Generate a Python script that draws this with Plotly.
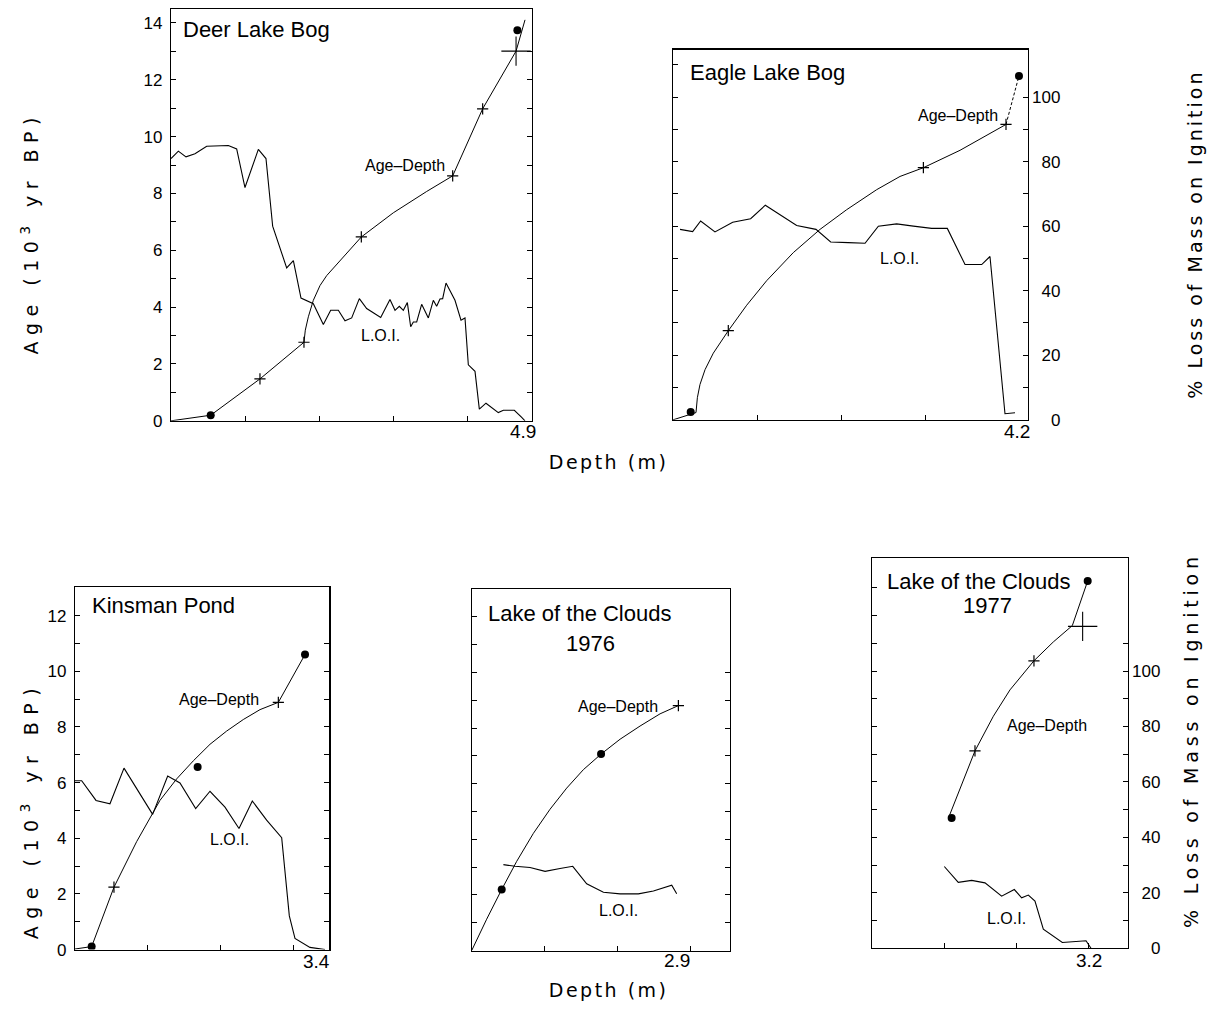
import plotly.graph_objects as go

W, H = 1217, 1017

# ---------------- DATA ----------------
# Deer Lake Bog
p1_ad_depth = [0.0, 0.535, 1.199, 1.792, 1.810, 1.851, 1.918, 2.008, 2.098, 2.323, 2.565, 2.996, 3.445, 3.796, 4.200, 4.650, 4.771]
p1_ad_age = [0.0, 0.197, 1.475, 2.764, 3.19, 3.66, 4.24, 4.76, 5.11, 5.75, 6.47, 7.32, 8.07, 8.62, 10.98, 13.01, 14.11]
p1_circle_depth = [0.535, 4.668]
p1_circle_age = [0.197, 13.74]
p1_plus_depth = [1.199, 1.792, 2.565, 3.796, 4.200]
p1_plus_age = [1.475, 2.764, 6.47, 8.62, 10.98]
p1_bigplus_depth = [4.650]
p1_bigplus_age = [13.01]
p1_loi_depth = [0.0, 0.099, 0.202, 0.323, 0.481, 0.773, 0.885, 0.997, 1.177, 1.280, 1.370, 1.559, 1.649, 1.752,
                1.918, 2.053, 2.152, 2.255, 2.345, 2.435, 2.538, 2.637, 2.826, 2.951, 3.019, 3.077, 3.131, 3.185,
                3.230, 3.266, 3.311, 3.378, 3.468, 3.535, 3.580, 3.625, 3.661, 3.706, 3.827, 3.908, 3.962, 4.007,
                4.097, 4.155, 4.245, 4.411, 4.479, 4.627, 4.726, 4.771]
p1_loi_pct = [92.3, 94.9, 92.9, 94.0, 96.6, 96.9, 95.7, 82.1, 95.5, 92.3, 68.5, 53.8, 56.4, 43.2,
              41.2, 33.9, 38.9, 38.9, 35.2, 36.2, 43.0, 39.5, 36.4, 42.7, 38.9, 40.3, 38.9, 41.6,
              33.1, 34.8, 34.8, 41.0, 36.2, 42.4, 40.3, 42.9, 43.0, 48.5, 42.4, 35.4, 36.2, 19.7,
              17.4, 4.1, 6.2, 2.9, 3.7, 3.7, 1.2, 0.0]

# Eagle Lake Bog
p2_ad_depth = [0.0, 0.273, 0.289, 0.320, 0.380, 0.478, 0.656, 0.874, 1.111, 1.427, 1.744, 2.06, 2.416, 2.693, 2.970, 3.405, 3.950]
p2_ad_age = [0.0, 0.225, 0.685, 1.094, 1.554, 2.065, 2.761, 3.55, 4.31, 5.18, 5.90, 6.51, 7.13, 7.54, 7.81, 8.35, 9.151]
p2_dash_depth = [3.950, 4.104]
p2_dash_age = [9.151, 10.654]
p2_circle_depth = [0.210, 4.104]
p2_circle_age = [0.245, 10.654]
p2_plus_depth = [0.656, 2.970, 3.950]
p2_plus_age = [2.761, 7.81, 9.151]
p2_loi_depth = [0.083, 0.233, 0.328, 0.498, 0.708, 0.921, 1.095, 1.289, 1.467, 1.696, 1.870, 2.080, 2.278,
                2.436, 2.653, 2.851, 3.068, 3.254, 3.464, 3.662, 3.760, 3.938, 4.057]
p2_loi_pct = [59.0, 58.3, 61.6, 58.2, 61.2, 62.3, 66.5, 63.1, 60.2, 59.0, 55.1, 54.9, 54.7,
              60.0, 60.7, 60.0, 59.3, 59.3, 48.1, 48.1, 50.6, 1.9, 2.2]

# Kinsman Pond
p3_ad_depth = [0.0, 0.229, 0.536, 0.848, 1.169, 1.398, 1.628, 1.857, 2.086, 2.315, 2.545, 2.797, 3.164]
p3_ad_age = [0.02, 0.107, 2.242, 3.879, 5.362, 6.133, 6.785, 7.378, 7.853, 8.268, 8.624, 8.885, 10.605]
p3_circle_depth = [0.229, 1.687, 3.164]
p3_circle_age = [0.107, 6.56, 10.605]
p3_plus_depth = [0.536, 2.797]
p3_plus_age = [2.242, 8.885]
p3_loi_depth = [0.0, 0.092, 0.289, 0.481, 0.674, 1.068, 1.275, 1.444, 1.660, 1.857, 2.063, 2.256, 2.439,
                2.636, 2.843, 2.902, 2.948, 3.026, 3.232, 3.439]
p3_loi_pct = [60.7, 60.7, 53.6, 52.4, 65.2, 48.6, 62.4, 59.9, 50.7, 56.9, 51.2, 43.5, 53.4,
              46.5, 40.2, 24.6, 12.1, 4.0, 0.8, 0.0]

# Lake of the Clouds 1976
p4_ad_depth = [0.0, 0.205, 0.411, 0.616, 0.845, 1.073, 1.301, 1.530, 1.772, 2.032, 2.306, 2.580, 2.831]
p4_ad_age = [0.0, 1.128, 2.197, 3.207, 4.216, 5.083, 5.843, 6.508, 7.067, 7.601, 8.076, 8.515, 8.812]
p4_circle_depth = [0.411, 1.772]
p4_circle_age = [2.197, 7.067]
p4_plus_depth = [2.831]
p4_plus_age = [8.812]
p4_loi_depth = [0.434, 0.594, 0.799, 1.005, 1.210, 1.384, 1.575, 1.804, 2.032, 2.283, 2.489, 2.740, 2.808]
p4_loi_pct = [30.9, 30.3, 29.9, 28.5, 29.5, 30.3, 24.0, 21.0, 20.4, 20.4, 21.4, 23.5, 20.4]

# Lake of the Clouds 1977
p5_ad_depth = [1.07, 1.218, 1.426, 1.681, 1.912, 2.245, 2.514, 2.778, 2.991]
p5_ad_age = [4.78, 5.75, 7.12, 8.37, 9.32, 10.37, 11.05, 11.64, 13.25]
p5_circle_depth = [1.102, 2.991]
p5_circle_age = [4.70, 13.25]
p5_plus_depth = [1.426, 2.245]
p5_plus_age = [7.12, 10.37]
p5_bigplus_depth = [2.921]
p5_bigplus_age = [11.61]
p5_loi_depth = [1.0, 1.194, 1.380, 1.565, 1.796, 1.972, 2.074, 2.167, 2.259, 2.375, 2.639, 2.968, 3.037]
p5_loi_pct = [29.5, 23.8, 24.5, 23.6, 18.8, 21.2, 18.2, 19.2, 17.0, 6.9, 2.1, 2.7, 0.0]

site_names = ["Deer Lake Bog", "Eagle Lake Bog", "Kinsman Pond", "Lake of the Clouds", "Lake of the Clouds"]
site_years = ["", "", "", "1976", "1977"]
core_length_labels = ["4.9", "4.2", "3.4", "2.9", "3.2"]
age_tick_labels = [0, 2, 4, 6, 8, 10, 12, 14]
loi_tick_labels = [0, 20, 40, 60, 80, 100]

# ---------------- LAYOUT GEOMETRY ----------------
FONT = "Liberation Sans, Arial, sans-serif"
TFONT = "DejaVu Sans, sans-serif"
# frame pixels: left, right, top, bottom ; x range max ; y (age) range max ; tick positions
panels = [
    dict(px=(171, 532, 9, 425), xmax=4.865, ymax=14.495, xt=[1, 2, 3, 4], yt=list(range(1, 15)),
         ylab=True, rt=list(range(10, 140, 10)), rlab=False),
    dict(px=(673, 1028, 50, 424), xmax=4.211, ymax=11.472, xt=[1, 2, 3], yt=list(range(1, 12)),
         ylab=False, rt=list(range(0, 110, 10)), rlab=True),
    dict(px=(75, 329.3, 593, 959), xmax=3.498, ymax=13.025, xt=[1, 2, 3], yt=list(range(1, 13)),
         ylab=True, rt=list(range(10, 120, 10)), rlab=False),
    dict(px=(471.7, 730, 595, 960), xmax=3.538, ymax=13.0, xt=[1, 2, 3], yt=list(range(1, 13)),
         ylab=False, rt=list(range(10, 110, 10)), rlab=False),
    dict(px=(872.3, 1128, 563.3, 957.7), xmax=3.551, ymax=14.086, xt=[1, 2, 3], yt=list(range(1, 14)),
         ylab=False, rt=list(range(0, 120, 10)), rlab=True),
]


def sfx(i):
    return "" if i == 1 else str(i)


fig = go.Figure()
line_style = dict(color="black", width=1)


def add_series(i, xs, ys, yaxis_id, **kw):
    fig.add_trace(go.Scatter(x=xs, y=ys, xaxis="x" + sfx(i), yaxis="y" + sfx(yaxis_id), showlegend=False,
                             hoverinfo="skip", **kw))


series = [
    dict(ad=(p1_ad_depth, p1_ad_age), circ=(p1_circle_depth, p1_circle_age), plus=(p1_plus_depth, p1_plus_age),
         big=(p1_bigplus_depth, p1_bigplus_age), loi=(p1_loi_depth, p1_loi_pct)),
    dict(ad=(p2_ad_depth, p2_ad_age), circ=(p2_circle_depth, p2_circle_age), plus=(p2_plus_depth, p2_plus_age),
         dash=(p2_dash_depth, p2_dash_age), loi=(p2_loi_depth, p2_loi_pct)),
    dict(ad=(p3_ad_depth, p3_ad_age), circ=(p3_circle_depth, p3_circle_age), plus=(p3_plus_depth, p3_plus_age),
         loi=(p3_loi_depth, p3_loi_pct)),
    dict(ad=(p4_ad_depth, p4_ad_age), circ=(p4_circle_depth, p4_circle_age), plus=(p4_plus_depth, p4_plus_age),
         loi=(p4_loi_depth, p4_loi_pct)),
    dict(ad=(p5_ad_depth, p5_ad_age), circ=(p5_circle_depth, p5_circle_age), plus=(p5_plus_depth, p5_plus_age),
         big=(p5_bigplus_depth, p5_bigplus_age), loi=(p5_loi_depth, p5_loi_pct)),
]

for k, s in enumerate(series):
    i = k + 1
    add_series(i, s["loi"][0], s["loi"][1], i + 5, mode="lines", line=dict(color="black", width=1.1))
    add_series(i, s["ad"][0], s["ad"][1], i, mode="lines", line=line_style)
    if "dash" in s:
        add_series(i, s["dash"][0], s["dash"][1], i, mode="lines", line=dict(color="black", width=1, dash="3px,2px"))
    add_series(i, s["plus"][0], s["plus"][1], i, mode="markers",
               marker=dict(symbol="cross-thin", size=8, line=dict(color="black", width=1.2), color="black"))
    if "big" in s:
        add_series(i, s["big"][0], s["big"][1], i, mode="markers",
                   marker=dict(symbol="cross-thin", size=21, line=dict(color="black", width=1.1), color="black"))
    add_series(i, s["circ"][0], s["circ"][1], i, mode="markers",
               marker=dict(symbol="circle", size=8, color="black", line=dict(width=0)))

layout = dict(width=W, height=H, margin=dict(l=0, r=0, t=0, b=0), paper_bgcolor="white",
              plot_bgcolor="white", font=dict(family=FONT, size=17, color="black"), showlegend=False)
annotations = []
TICK = dict(ticks="inside", ticklen=5, tickwidth=1, tickcolor="black")


def split_ticks(all_vals, labelled, lab_vals):
    """Return axis tick settings: labelled major ticks plus unlabelled minor ticks."""
    if not labelled:
        return dict(tickvals=all_vals, showticklabels=False)
    major = [v for v in lab_vals if v <= max(all_vals)]
    minor = [v for v in all_vals if v not in major]
    return dict(tickvals=major, ticktext=[str(v) for v in major], showticklabels=True,
                minor=dict(tickvals=minor, **TICK))


for k, p in enumerate(panels):
    i = k + 1
    L, R, T, B = p["px"]
    xs = sfx(i)
    layout["xaxis" + xs] = dict(domain=[L / W, R / W], range=[0, p["xmax"]], anchor="y" + xs,
                                showline=True, mirror=True, linecolor="black", linewidth=1.2,
                                tickvals=p["xt"], showticklabels=False, showgrid=False, zeroline=False,
                                fixedrange=True, **TICK)
    layout["yaxis" + xs] = dict(domain=[1 - B / H, 1 - T / H], range=[0, p["ymax"]], anchor="x" + xs,
                                showline=True, mirror=True, linecolor="black", linewidth=1.2,
                                ticklabelstandoff=4, showgrid=False, zeroline=False, fixedrange=True,
                                **split_ticks(p["yt"], p["ylab"], age_tick_labels), **TICK)
    rt = split_ticks(p["rt"], p["rlab"], loi_tick_labels)
    if p["rlab"]:
        # right-align the numbers on the right-hand axis with figure spaces
        rt["ticktext"] = ["\u2007" * (3 - len(t)) + t for t in rt["ticktext"]]
    layout[f"yaxis{i + 5}"] = dict(overlaying="y" + xs, side="right", anchor="x" + xs,
                                   range=[0, 10 * p["ymax"]], showline=False, ticklabelstandoff=3,
                                   showgrid=False, zeroline=False, fixedrange=True, **rt, **TICK)

    def ann(x, y, text, size, xanchor="center", yanchor="middle"):
        annotations.append(dict(x=x, y=y, xref="x" + xs, yref="y" + xs, text=text, showarrow=False,
                                xanchor=xanchor, yanchor=yanchor, font=dict(family=FONT, size=size)))

    def end_label(x, ypx, text):
        # label under the bottom axis; y given relative to the subplot's domain
        annotations.append(dict(x=x, y=(B - ypx) / (B - T), xref="x" + xs, yref="y" + xs + " domain",
                                text=text, showarrow=False, xanchor="center", yanchor="middle",
                                font=dict(family=FONT, size=19)))

    # panel specific text positions (data coordinates)
    if i == 1:
        ann(0.135, 13.76, site_names[0], 22, "left")
        ann(3.154, 8.99, "Age–Depth", 16)
        ann(2.817, 3.0, "L.O.I.", 16)
        end_label(4.744, 436, core_length_labels[0])
    elif i == 2:
        ann(0.178, 10.77, site_names[1], 22, "left")
        ann(3.381, 9.417, "Age–Depth", 16)
        ann(2.681, 5.0, "L.O.I.", 16)
        end_label(4.081, 436, core_length_labels[1])
    elif i == 3:
        ann(0.206, 12.38, site_names[2], 22, "left")
        ann(1.981, 8.97, "Age–Depth", 16)
        ann(2.132, 3.95, "L.O.I.", 16)
        end_label(3.325, 971, core_length_labels[2])
    elif i == 4:
        ann(1.470, 12.11, site_names[3], 22)
        ann(1.621, 11.04, site_years[3], 22)
        ann(2.004, 8.764, "Age–Depth", 16)
        ann(2.004, 1.425, "L.O.I.", 16)
        end_label(2.816, 970, core_length_labels[3])
    elif i == 5:
        ann(1.468, 13.24, site_names[4], 22)
        ann(1.593, 12.35, site_years[4], 22)
        ann(2.426, 8.025, "Age–Depth", 16)
        ann(1.857, 1.06, "L.O.I.", 16)
        end_label(3.014, 970, core_length_labels[4])


def pann(xp, yp, text, size, angle=0):
    annotations.append(dict(x=xp / W, y=1 - yp / H, xref="paper", yref="paper", text=text, showarrow=False,
                            textangle=angle, xanchor="center", yanchor="middle",
                            font=dict(family=TFONT, size=size)))


age_title = "Age (10<sup>3</sup> yr BP)"
loi_title = "% Loss of Mass on Ignition"
depth_title = "Depth (m)"
pann(30, 235, age_title, 19, -90)
pann(30, 818, age_title, 19, -90)
pann(1195, 237, loi_title, 19, -90)
pann(1191, 748, loi_title, 19, -90)
pann(608, 467, depth_title, 19)
pann(608, 1000, depth_title, 19)

layout["annotations"] = annotations
fig.update_layout(**layout)

# wide letter tracking of the axis titles, as in the typeset original
post = """
document.body.style.margin='0';document.body.style.overflow='hidden';
var nLoss = 0, nAge = 0;
document.querySelectorAll('text.annotation-text').forEach(function(t){
  var s = t.textContent;
  if (s.indexOf('Age (') === 0) { t.style.letterSpacing = (nAge === 0 ? '6.5px' : '7.5px'); nAge++; }
  else if (s.indexOf('% Loss') === 0) { t.style.letterSpacing = (nLoss === 0 ? '3px' : '4.8px'); nLoss++; }
  else if (s.indexOf('Depth (') === 0) { t.style.letterSpacing = '2.5px'; }
});
"""
fig.write_html("out.html", config={"displayModeBar": False, "staticPlot": True}, post_script=post)
